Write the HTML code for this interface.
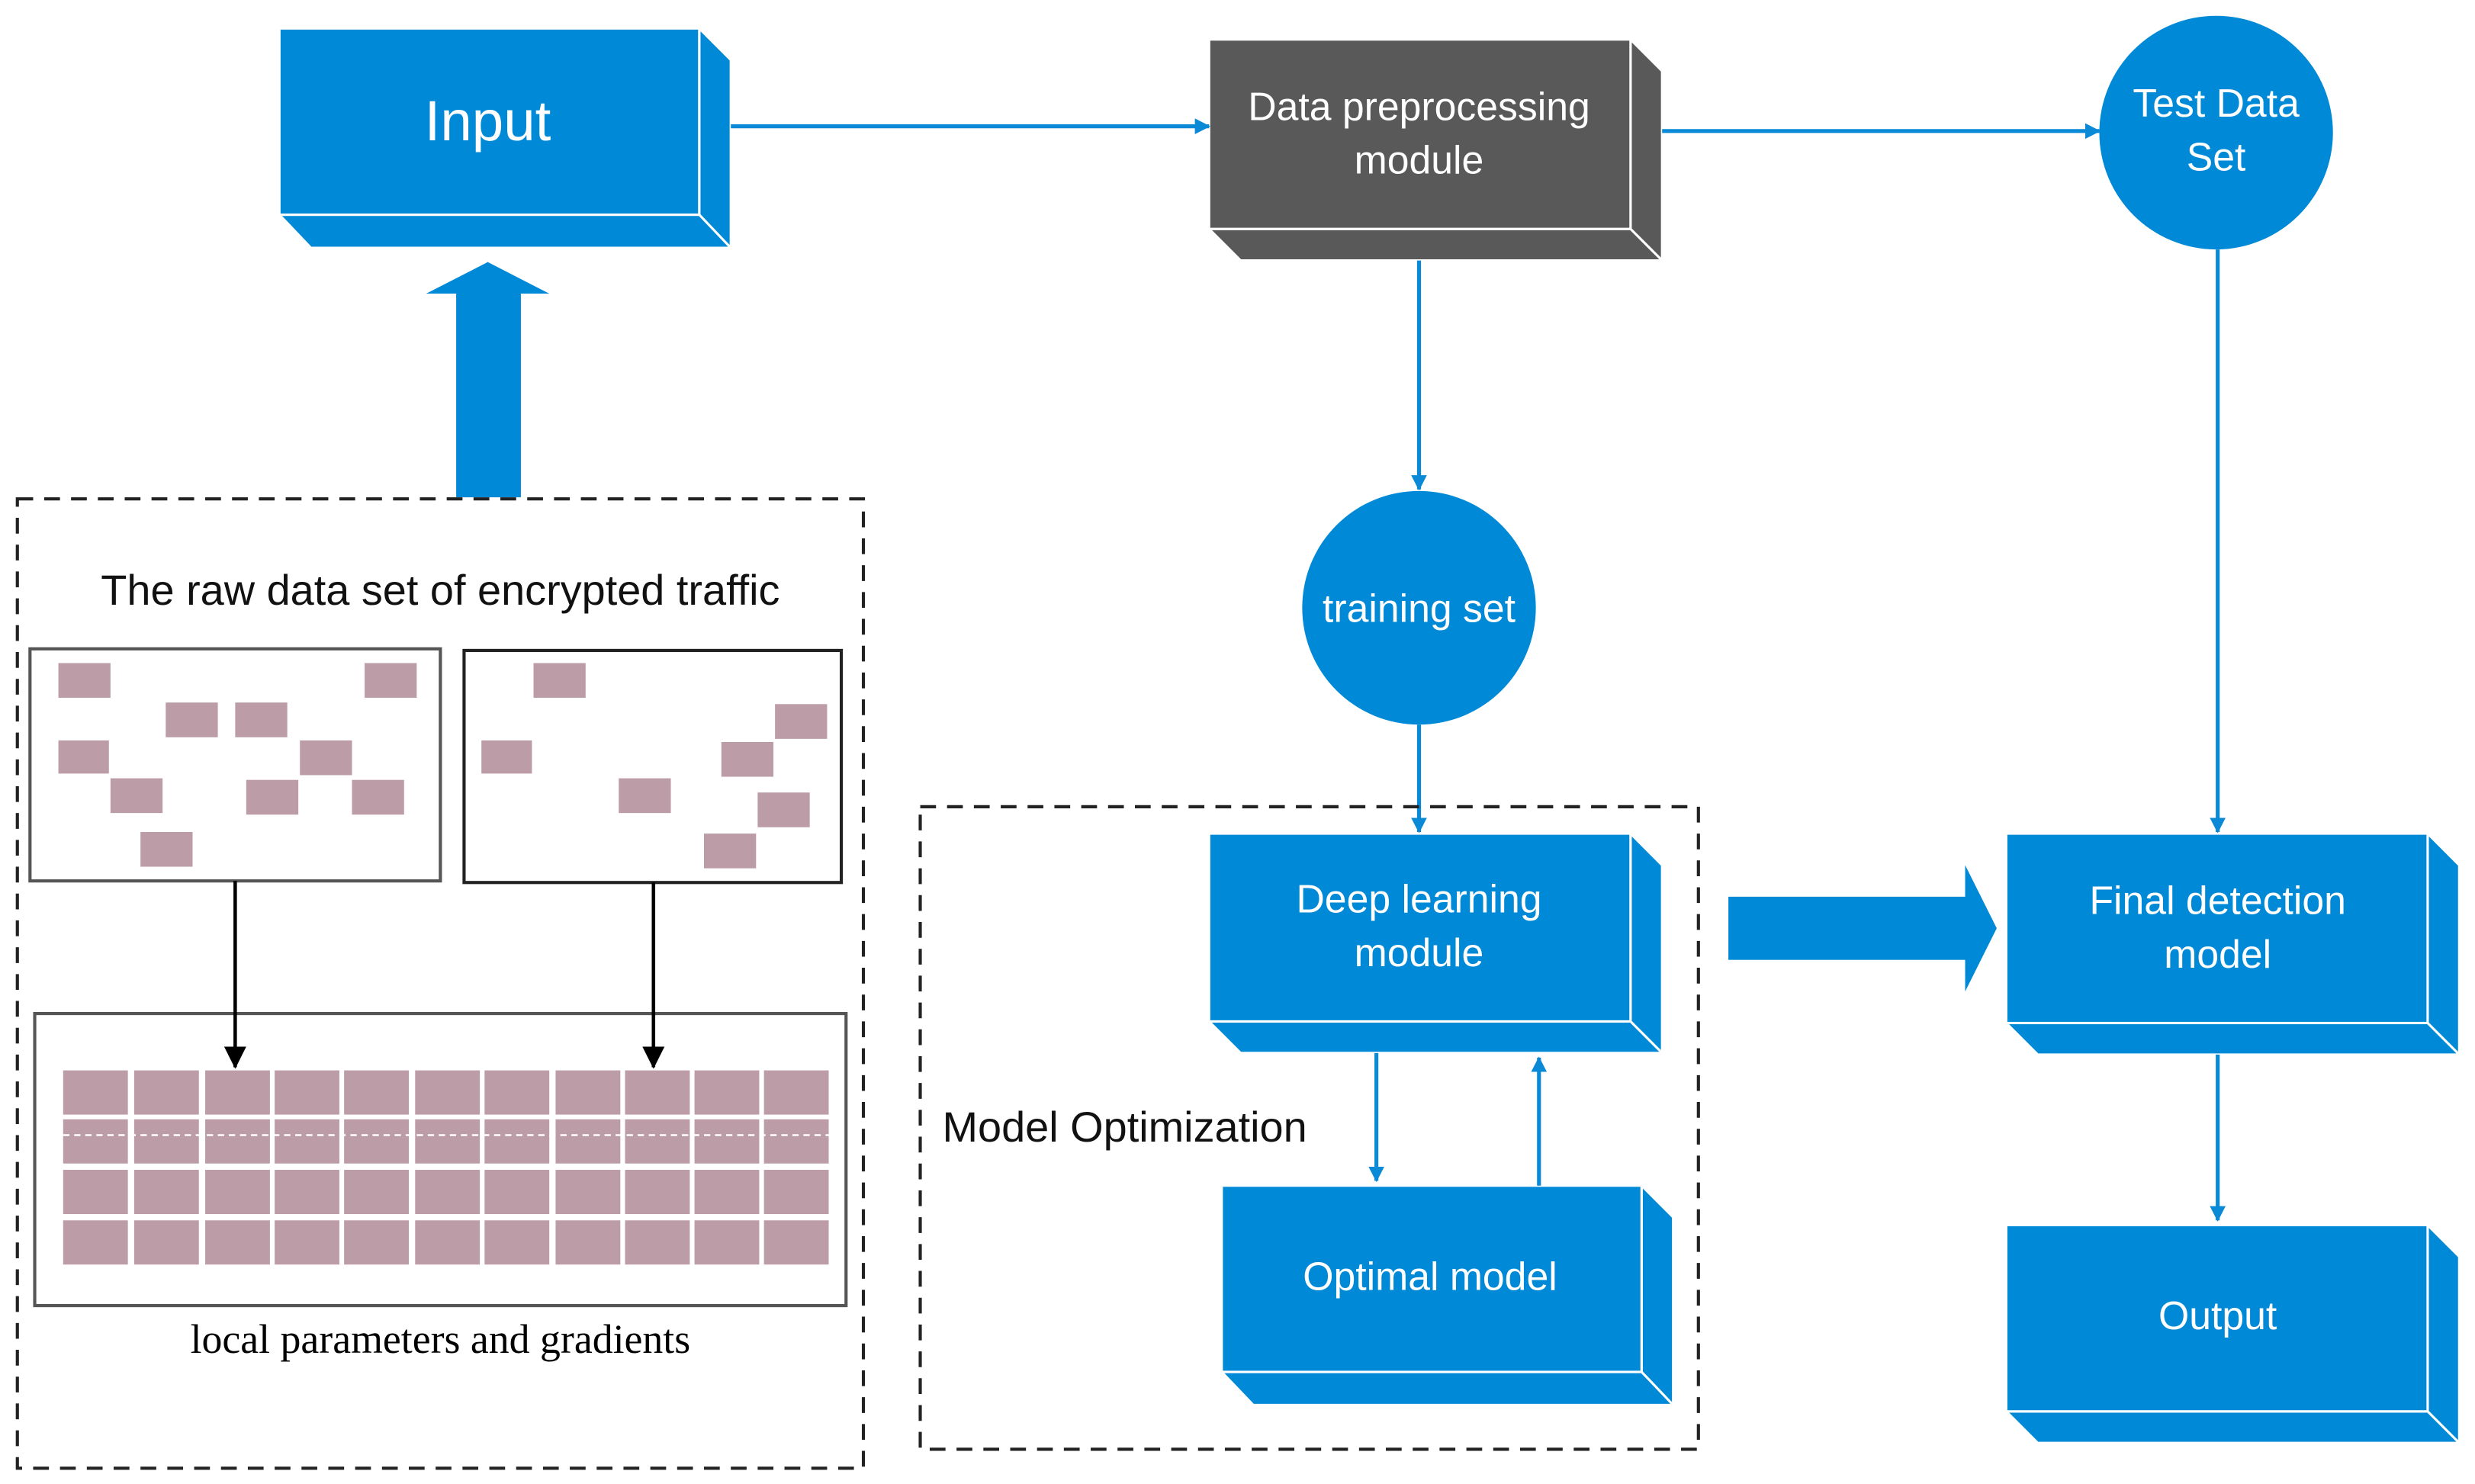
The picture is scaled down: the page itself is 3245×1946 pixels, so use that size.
<!DOCTYPE html>
<html><head><meta charset="utf-8"><style>html,body{margin:0;padding:0;background:#fff}svg{display:block}</style></head><body>
<svg width="3245" height="1946" viewBox="0 0 1568 940" preserveAspectRatio="none" xmlns="http://www.w3.org/2000/svg" font-family="Liberation Sans, sans-serif">
<defs>
<marker id="ab" markerWidth="10" markerHeight="10" refX="9" refY="5" orient="auto" markerUnits="userSpaceOnUse"><path d="M0,0 L14,5 L0,10 z" fill="#0a8ad6" transform="scale(0.7,1)"/></marker>
<marker id="ak" markerWidth="14" markerHeight="14" refX="13" refY="7" orient="auto" markerUnits="userSpaceOnUse"><path d="M0,0 L14,7 L0,14 z" fill="#000"/></marker>
<g id="row" fill="#bc9ca6"><rect x="40" y="0" width="41" height="28"/><rect x="85" y="0" width="41" height="28"/><rect x="130" y="0" width="41" height="28"/><rect x="174" y="0" width="41" height="28"/><rect x="218" y="0" width="41" height="28"/><rect x="263" y="0" width="41" height="28"/><rect x="307" y="0" width="41" height="28"/><rect x="352" y="0" width="41" height="28"/><rect x="396" y="0" width="41" height="28"/><rect x="440" y="0" width="41" height="28"/><rect x="484" y="0" width="41" height="28"/></g>
</defs>
<g stroke="#fff" stroke-width="1.5">
<polygon points="443,18 463,38 463,157 443,136" fill="#0089d6"/>
<polygon points="177,136 443,136 463,157 197,157" fill="#0089d6"/>
<rect x="177" y="18" width="266" height="118" fill="#0089d6"/>
<polygon points="1033,25 1053,45 1053,165 1033,145" fill="#595959"/>
<polygon points="766,145 1033,145 1053,165 786,165" fill="#595959"/>
<rect x="766" y="25" width="267" height="120" fill="#595959"/>
<polygon points="1033,528 1053,548 1053,667 1033,647" fill="#0089d6"/>
<polygon points="766,647 1033,647 1053,667 786,667" fill="#0089d6"/>
<rect x="766" y="528" width="267" height="119" fill="#0089d6"/>
<polygon points="1040,751 1060,771 1060,890 1040,869" fill="#0089d6"/>
<polygon points="774,869 1040,869 1060,890 794,890" fill="#0089d6"/>
<rect x="774" y="751" width="266" height="118" fill="#0089d6"/>
<polygon points="1538,528 1558,548 1558,668 1538,648" fill="#0089d6"/>
<polygon points="1271,648 1538,648 1558,668 1291,668" fill="#0089d6"/>
<rect x="1271" y="528" width="267" height="120" fill="#0089d6"/>
<polygon points="1538,776 1558,796 1558,914 1538,894" fill="#0089d6"/>
<polygon points="1271,894 1538,894 1558,914 1291,914" fill="#0089d6"/>
<rect x="1271" y="776" width="267" height="118" fill="#0089d6"/>
</g>
<circle cx="1404" cy="84" r="74" fill="#0089d6"/>
<circle cx="899" cy="385" r="74" fill="#0089d6"/>
<rect x="289" y="185" width="41" height="130" fill="#0089d6"/>
<polygon points="270,186 348,186 309,166" fill="#0089d6"/>
<rect x="1095" y="568" width="152" height="40" fill="#0089d6"/>
<polygon points="1245,548 1245,628 1265,588" fill="#0089d6"/>
<g stroke="#0a8ad6" stroke-width="2.5" fill="none" marker-end="url(#ab)">
<line x1="463" y1="80" x2="766" y2="80"/>
<line x1="1053" y1="83" x2="1330" y2="83"/>
<line x1="1405" y1="158" x2="1405" y2="527"/>
<line x1="899" y1="165" x2="899" y2="310"/>
<line x1="899" y1="459" x2="899" y2="527"/>
<line x1="872" y1="667" x2="872" y2="748"/>
<line x1="975" y1="751" x2="975" y2="670"/>
<line x1="1405" y1="668" x2="1405" y2="773"/>
</g>
<rect x="11" y="316" width="536" height="614" fill="none" stroke="#222" stroke-width="2" stroke-dasharray="10,7"/>
<rect x="583" y="511" width="493" height="407" fill="none" stroke="#222" stroke-width="2" stroke-dasharray="10,7"/>
<g fill="#fff" text-anchor="middle">
<text x="309" y="89" font-size="36">Input</text>
<text x="899" y="76" font-size="25">Data preprocessing</text>
<text x="899" y="110" font-size="25">module</text>
<text x="1404" y="74" font-size="25">Test Data</text>
<text x="1404" y="108" font-size="25">Set</text>
<text x="899" y="394" font-size="25">training set</text>
<text x="899" y="578" font-size="25">Deep learning</text>
<text x="899" y="612" font-size="25">module</text>
<text x="906" y="817" font-size="25">Optimal model</text>
<text x="1405" y="579" font-size="25">Final detection</text>
<text x="1405" y="613" font-size="25">model</text>
<text x="1405" y="842" font-size="25">Output</text>
</g>
<text x="597" y="723" font-size="27" fill="#111">Model Optimization</text>
<text x="279" y="383" font-size="27" fill="#111" text-anchor="middle">The raw data set of encrypted traffic</text>
<text x="279" y="857" font-size="26" fill="#000" text-anchor="middle" font-family="Liberation Serif, serif">local parameters and gradients</text>
<rect x="19" y="411" width="260" height="147" fill="none" stroke="#555" stroke-width="2"/>
<rect x="294" y="412" width="239" height="147" fill="none" stroke="#222" stroke-width="2"/>
<g fill="#bc9ca6">
<rect x="37" y="420" width="33" height="22"/><rect x="231" y="420" width="33" height="22"/>
<rect x="105" y="445" width="33" height="22"/><rect x="149" y="445" width="33" height="22"/>
<rect x="37" y="469" width="32" height="21"/><rect x="190" y="469" width="33" height="22"/>
<rect x="70" y="493" width="33" height="22"/><rect x="156" y="494" width="33" height="22"/>
<rect x="223" y="494" width="33" height="22"/><rect x="89" y="527" width="33" height="22"/>
<rect x="338" y="420" width="33" height="22"/><rect x="491" y="446" width="33" height="22"/>
<rect x="305" y="469" width="32" height="21"/><rect x="457" y="470" width="33" height="22"/>
<rect x="392" y="493" width="33" height="22"/><rect x="480" y="502" width="33" height="22"/>
<rect x="446" y="528" width="33" height="22"/>
</g>
<rect x="22" y="642" width="514" height="185" fill="none" stroke="#555" stroke-width="2"/>
<use href="#row" y="678"/><use href="#row" y="709"/><use href="#row" y="741"/><use href="#row" y="773"/>
<line x1="40" y1="719" x2="525" y2="719" stroke="#fff" stroke-width="1.2" stroke-dasharray="4,3"/>
<g stroke="#000" stroke-width="2.2" marker-end="url(#ak)">
<line x1="149" y1="558" x2="149" y2="676"/>
<line x1="414" y1="559" x2="414" y2="676"/>
</g>
</svg>
</body></html>
